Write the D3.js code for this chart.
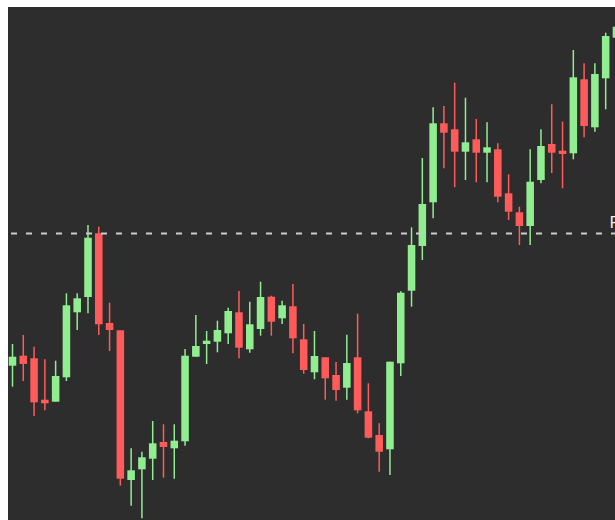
<!DOCTYPE html>
<html>
<head>
  <style>
    body { margin: 0; background: #fff; }
    .wick { stroke-width: 1.5; }
    .ref-line { stroke: #cccccc; stroke-width: 1.8; stroke-dasharray: 6,9; }
    .ref-label { fill: #f0f0f0; font-family: "DejaVu Sans", sans-serif; font-size: 15px; }
  </style>
  <script src="https://d3js.org/d3.v7.min.js"></script>
</head>
<body>
  <div id="chart"></div>
  <script>
    // session index for each candle
    const sessions = d3.range(1, 58);
    const open  = [165.43,166.43,166.17,162.03,161.83,164.27,170.77,172.30,178.67,169.70,
                   168.97,154.00,155.07,156.13,157.80,157.17,157.87,166.33,167.60,167.83,
                   168.67,170.77,167.07,169.10,172.33,170.17,171.37,168.07,164.77,166.27,
                   164.50,163.23,166.27,160.87,158.50,157.07,165.67,172.93,177.40,181.77,
                   189.67,189.07,186.83,188.07,186.73,187.07,182.67,180.77,179.40,184.00,
                   187.60,186.93,186.67,194.07,189.27,194.17,198.23];
    const high  = [167.60,168.50,167.33,166.07,165.93,172.67,172.67,179.50,179.33,171.73,
                   168.97,157.17,156.83,159.90,159.57,159.57,167.10,170.50,168.90,169.93,
                   171.23,172.90,171.83,173.83,172.43,171.93,173.60,169.60,168.90,166.27,
                   165.80,168.53,170.63,163.67,159.67,165.83,172.87,179.27,186.20,191.27,
                   191.40,193.73,192.23,190.10,189.77,187.67,184.57,181.33,187.07,189.07,
                   191.57,189.85,197.00,195.67,195.67,198.73,200.40];
    const low   = [163.33,163.90,160.40,160.97,161.83,163.90,169.00,170.67,168.50,166.90,
                   153.43,151.43,150.17,154.00,154.23,154.13,157.43,166.33,165.60,166.77,
                   167.60,166.17,166.73,168.43,168.43,169.60,166.67,164.63,164.07,162.03,
                   161.93,162.03,160.67,158.17,154.83,154.50,164.40,171.33,176.00,180.17,
                   185.17,183.27,184.00,183.77,183.77,181.77,180.00,177.50,177.50,183.67,
                   184.70,183.17,186.07,188.27,188.83,191.07,197.40];
    const close = [166.33,165.60,161.77,161.67,164.40,171.47,172.17,178.23,169.57,169.00,
                   154.13,154.97,156.27,157.67,157.30,157.93,166.43,167.40,167.93,169.00,
                   170.90,167.23,169.57,172.30,169.83,171.47,168.17,165.00,166.40,164.17,
                   163.00,165.70,160.97,158.23,156.83,165.83,172.73,177.50,181.60,189.67,
                   188.73,186.83,187.77,186.73,187.27,182.33,180.83,179.40,183.83,187.40,
                   186.73,186.60,194.27,189.40,194.60,198.40,199.33];
    const refLevels = [178.65];
    const refLabels = ["Prev close"];

    const W = 615, H = 520;
    const plot = { left: 8, top: 7, right: 615, bottom: 520 };
    const upColor = "#90ee90", downColor = "#ff5b5b";

    const candles = sessions.map((s, i) => ({
      s, o: open[i], h: high[i], l: low[i], c: close[i]
    }));

    const step = 10.785;
    const x = d3.scaleBand()
      .domain(sessions)
      .range([12.5 - step / 2, 12.5 - step / 2 + step * sessions.length])
      .paddingInner(0.3)
      .paddingOuter(0.15);

    const y = d3.scaleLinear()
      .domain([150, 200])
      .range([520, 20]);

    const svg = d3.select("#chart")
      .append("svg")
      .attr("width", W)
      .attr("height", H);

    svg.append("defs").append("clipPath")
      .attr("id", "plot-clip")
      .append("rect")
      .attr("x", plot.left).attr("y", plot.top)
      .attr("width", plot.right - plot.left)
      .attr("height", plot.bottom - plot.top);

    svg.append("rect")
      .attr("x", plot.left).attr("y", plot.top)
      .attr("width", plot.right - plot.left)
      .attr("height", plot.bottom - plot.top)
      .attr("fill", "#2d2d2d");

    const g = svg.append("g").attr("clip-path", "url(#plot-clip)");

    const mid = d => x(d.s) + x.bandwidth() / 2;
    const col = d => d.c >= d.o ? upColor : downColor;

    g.append("g")
      .selectAll("line")
      .data(candles)
      .enter()
      .append("line")
      .attr("class", "wick")
      .attr("x1", mid).attr("x2", mid)
      .attr("y1", d => y(d.h))
      .attr("y2", d => y(d.l))
      .attr("stroke", col);

    g.append("g")
      .selectAll("rect")
      .data(candles)
      .enter()
      .append("rect")
      .attr("x", d => x(d.s))
      .attr("width", x.bandwidth())
      .attr("y", d => y(Math.max(d.o, d.c)))
      .attr("height", d => Math.max(1.5, Math.abs(y(d.o) - y(d.c))))
      .attr("fill", col);

    g.selectAll(".ref-line")
      .data(refLevels)
      .enter()
      .append("line")
      .attr("class", "ref-line")
      .attr("x1", plot.left + 3)
      .attr("x2", plot.right)
      .attr("y1", d => y(d))
      .attr("y2", d => y(d));

    // label runs off the right edge, as in the source chart
    g.selectAll(".ref-label")
      .data(refLevels)
      .enter()
      .append("text")
      .attr("class", "ref-label")
      .attr("x", 609.5)
      .attr("y", d => y(d) - 5.8)
      .text((d, i) => refLabels[i]);
  </script>
</body>
</html>
